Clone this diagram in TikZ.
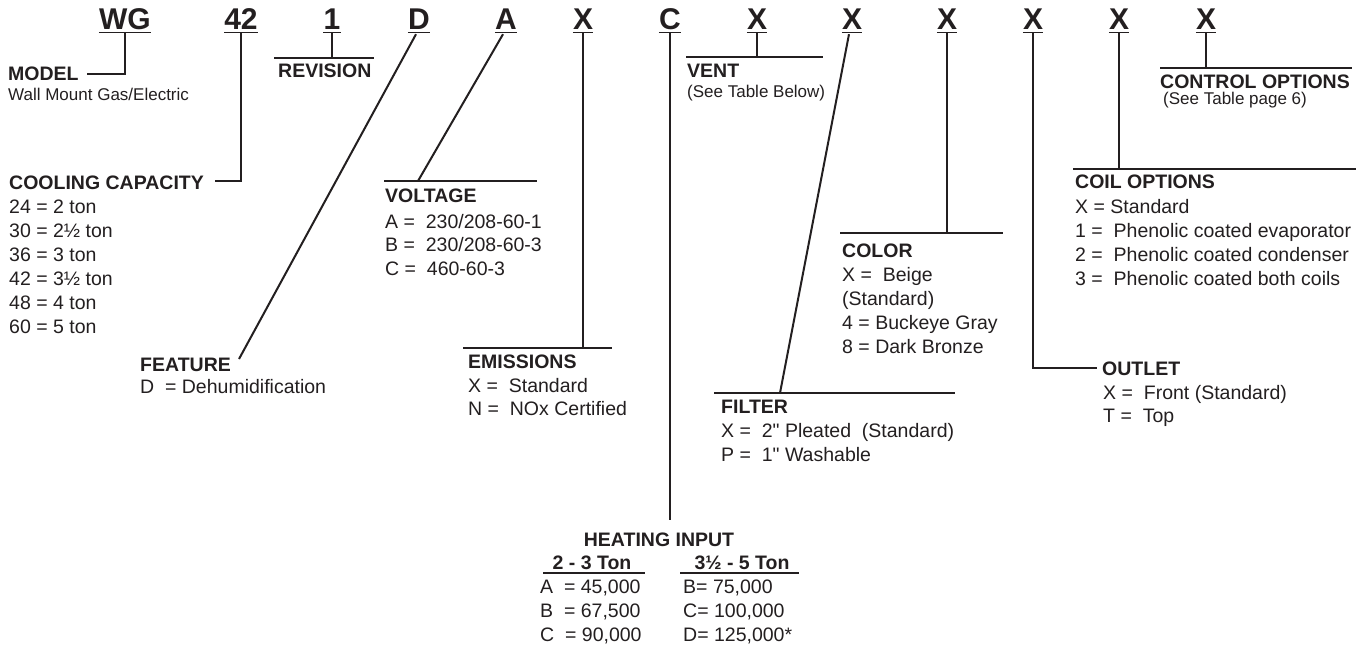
\documentclass[tikz,border=0pt]{standalone}
\usepackage{fontspec}
\setmainfont{Liberation Sans}
\definecolor{ink}{HTML}{231F20}
\newcommand\bodyf{\fontsize{19.5}{24}\selectfont}
\newcommand\hdf{\bfseries\fontsize{19.5}{24}\selectfont}
\newcommand\smf{\fontsize{17}{20}\selectfont}
\newcommand\topf{\bfseries\fontsize{30}{36}\selectfont}
\newcommand\rowsat[5]{\foreach \rowtext [count=\i] in {#5} {\node[txt] (#1\i) at (#2,{#3+(\i-1)*#4}) {\rowtext};}}
\begin{document}
\begin{tikzpicture}[x=1pt,y=-1pt,
  code/.style={font=\topf, anchor=base, inner sep=0pt, text=ink},
  hd/.style={font=\hdf, anchor=base west, inner sep=0pt, text=ink},
  txt/.style={font=\bodyf, anchor=base west, inner sep=0pt, text=ink},
  sm/.style={font=\smf, anchor=base west, inner sep=0pt, text=ink},
  conn/.style={draw=ink, line width=2pt},
  uline/.style={draw=ink, line width=1.2pt},
  hline/.style={draw=ink, line width=1.6pt}]
\useasboundingbox (0,0) rectangle (1368,645);
\fill[white] (0,0) rectangle (1368,645);

% code letters
\node[code] (wg) at (125,29) {WG};
\node[code] (n42) at (241,29) {42};
\node[code] (rev) at (332,29) {1};
\node[code] (dd) at (419,29) {D};
\node[code] (aa) at (506,29) {A};
\node[code] (x1) at (583,29) {X};
\node[code] (cc) at (670,29) {C};
\node[code] (x2) at (757,29) {X};
\node[code] (x3) at (852,29) {X};
\node[code] (x4) at (947,29) {X};
\node[code] (x5) at (1033,29) {X};
\node[code] (x6) at (1119,29) {X};
\node[code] (x7) at (1206,29) {X};
\foreach \n in {wg,n42,rev,dd,aa,x1,cc,x2,x3,x4,x5,x6,x7}
  \draw[uline] ([yshift=-3pt]\n.south west) -- ([yshift=-3pt]\n.south east);

% MODEL
\node[hd] (model) at (8,80) {MODEL};
\node[sm] (modeld) at (8,100) {Wall Mount Gas/Electric};
\coordinate (modelend) at (87,74);
\draw[conn] ([yshift=-4pt]wg.south) |- (modelend);

% COOLING CAPACITY
\node[hd] (cool) at (9,189) {COOLING CAPACITY};
\rowsat{cool}{9}{213}{24}{{24 = 2 ton},{30 = 2½ ton},{36 = 3 ton},{42 = 3½ ton},{48 = 4 ton},{60 = 5 ton}}
\coordinate (coolend) at (215,181);
\draw[conn] ([yshift=-4pt]n42.south) |- (coolend);

% REVISION
\coordinate (revL) at (274,58);
\coordinate (revR) at (374,58);
\draw[conn] (revL) -- (revR);
\draw[conn] ([yshift=-4pt]rev.south) -- (rev.south |- revL);
\node[hd] (revl) at (278,77) {REVISION};

% FEATURE
\node[hd] (feat) at (140,371) {FEATURE};
\node[txt] (feat1) at (140,393) {D\ \ = Dehumidification};
\coordinate (featend) at (239,359);
\draw[conn] ([xshift=-3pt,yshift=-5pt]dd.south) -- (featend);

% VOLTAGE
\coordinate (voltL) at (384,181);
\coordinate (voltR) at (537,181);
\coordinate (voltJ) at (418,181);
\draw[conn] (voltL) -- (voltR);
\draw[conn] ([xshift=-3pt,yshift=-5pt]aa.south) -- (voltJ);
\node[hd] (volt) at (385,202) {VOLTAGE};
\rowsat{volt}{385}{228}{23.5}{{A = \ 230/208-60-1},{B = \ 230/208-60-3},{C = \ 460-60-3}}

% EMISSIONS
\coordinate (emiL) at (463,348);
\coordinate (emiR) at (612,348);
\draw[conn] (emiL) -- (emiR);
\draw[conn] ([yshift=-4pt]x1.south) -- (x1.south |- emiL);
\node[hd] (emi) at (468,368) {EMISSIONS};
\rowsat{emi}{468}{392}{23.5}{{X = \ Standard},{N = \ NOx Certified}}

% HEATING INPUT
\coordinate (heatJ) at (670,520);
\draw[conn] ([yshift=-4pt]cc.south) -- (heatJ);
\node[hd, anchor=base] (heat) at (659,546) {HEATING INPUT};
\node[hd, anchor=base] (h23) at (592,569) {2 - 3 Ton};
\node[hd, anchor=base] (h35) at (742,569) {3½ - 5 Ton};
\coordinate (h23L) at (543,573);
\coordinate (h23R) at (645,573);
\coordinate (h35L) at (680,573);
\coordinate (h35R) at (799,573);
\draw[hline] (h23L) -- (h23R);
\draw[hline] (h35L) -- (h35R);
\rowsat{hl}{540}{593}{24}{{A\ \ = 45,000},{B\ \ = 67,500},{C\ \ = 90,000}}
\rowsat{hr}{683}{593}{24}{{B= 75,000},{C= 100,000},{D= 125,000*}}

% VENT
\coordinate (ventL) at (686,57);
\coordinate (ventR) at (823,57);
\draw[conn] (ventL) -- (ventR);
\draw[conn] ([yshift=-4pt]x2.south) -- (x2.south |- ventL);
\node[hd] (vent) at (687,77) {VENT};
\node[sm] (vent1) at (687,97) {(See Table Below)};

% FILTER
\coordinate (filL) at (714,393);
\coordinate (filR) at (955,393);
\coordinate (filJ) at (780,393);
\draw[conn] (filL) -- (filR);
\draw[conn] ([xshift=-3pt,yshift=-5pt]x3.south) -- (filJ);
\node[hd] (fil) at (721,413) {FILTER};
\rowsat{fil}{721}{437}{24}{{X = \ 2\textquotedbl\ Pleated \ (Standard)},{P = \ 1\textquotedbl\ Washable}}

% COLOR
\coordinate (colL) at (840,233);
\coordinate (colR) at (1003,233);
\draw[conn] (colL) -- (colR);
\draw[conn] ([yshift=-4pt]x4.south) -- (x4.south |- colL);
\node[hd] (col) at (842,257) {COLOR};
\rowsat{col}{842}{281}{24}{{X = \ Beige},{(Standard)},{4 = Buckeye Gray},{8 = Dark Bronze}}

% OUTLET
\coordinate (outE) at (1097,368);
\draw[conn] ([yshift=-4pt]x5.south) |- (outE);
\node[hd] (out) at (1102,375) {OUTLET};
\rowsat{out}{1103}{399}{23.5}{{X = \ Front (Standard)},{T = \ Top}}

% COIL OPTIONS
\coordinate (coilL) at (1073,169);
\coordinate (coilR) at (1356,169);
\draw[conn] (coilL) -- (coilR);
\draw[conn] ([yshift=-4pt]x6.south) -- (x6.south |- coilL);
\node[hd] (coil) at (1075,188) {COIL OPTIONS};
\rowsat{coil}{1075}{213}{24}{{X = Standard},{1 = \ Phenolic coated evaporator},{2 = \ Phenolic coated condenser},{3 = \ Phenolic coated both coils}}

% CONTROL OPTIONS
\coordinate (ctlL) at (1160,68);
\coordinate (ctlR) at (1352,68);
\draw[conn] (ctlL) -- (ctlR);
\draw[conn] ([yshift=-4pt]x7.south) -- (x7.south |- ctlL);
\node[hd] (ctl) at (1160,88) {CONTROL OPTIONS};
\node[sm] (ctl1) at (1163,104) {(See Table page 6)};
\end{tikzpicture}
\end{document}
